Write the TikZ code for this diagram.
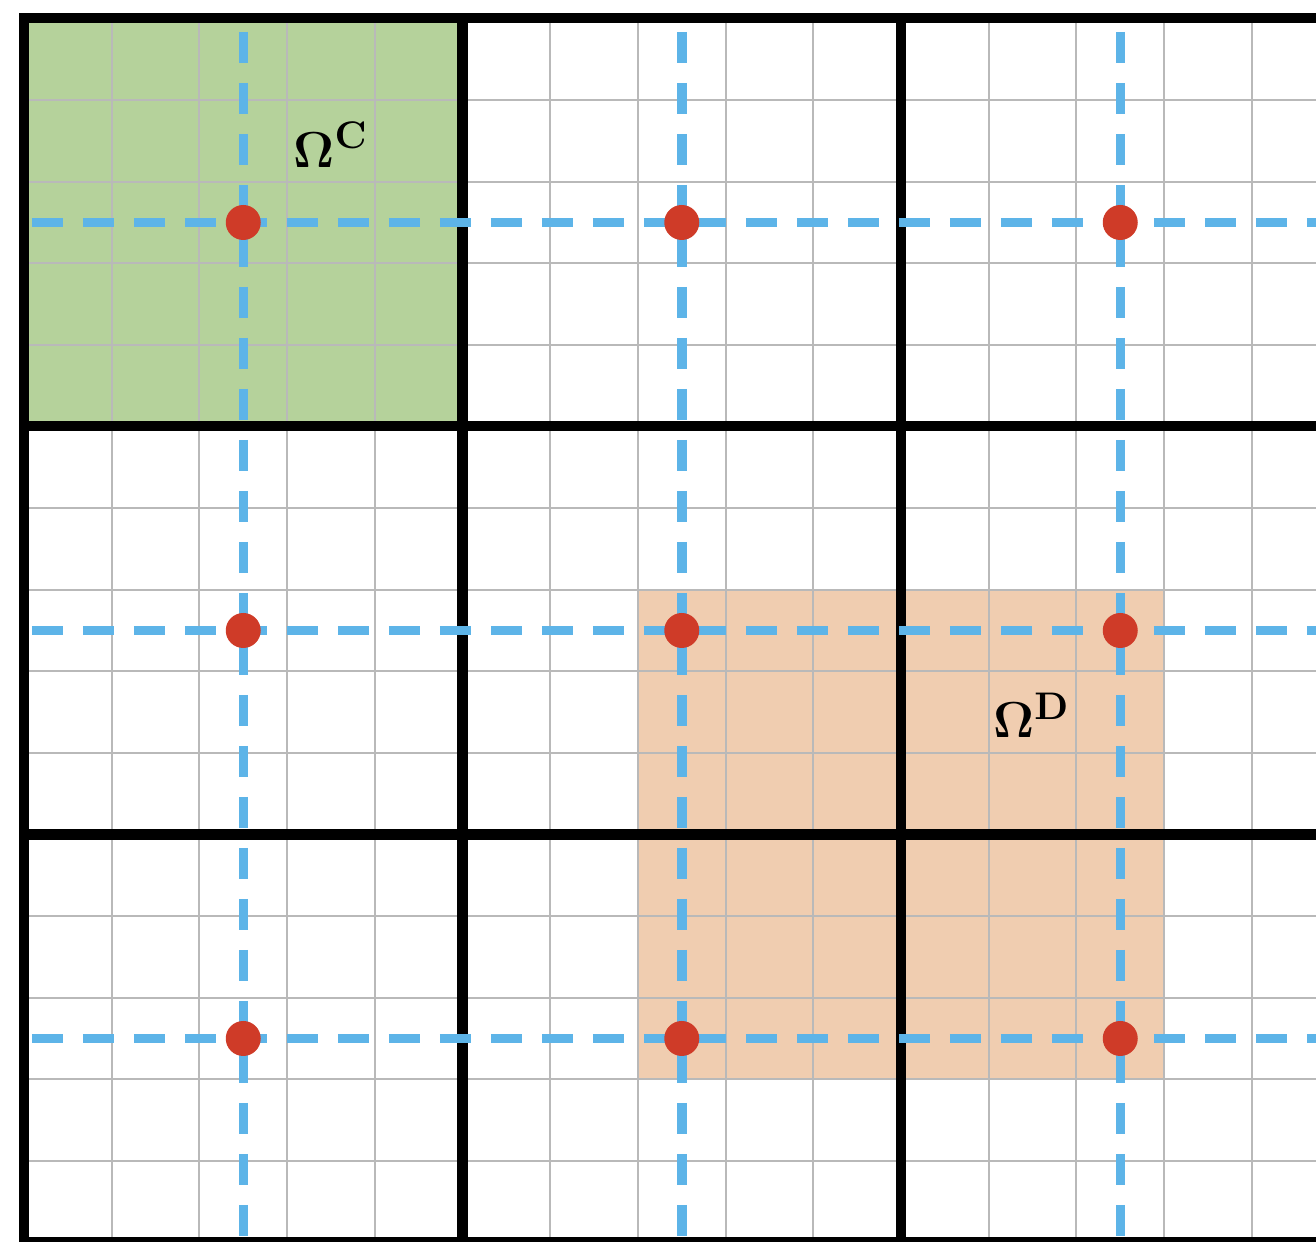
\documentclass[tikz,border=0pt]{standalone}
\usepackage{amsmath,amssymb}
\usepackage{bm}
\definecolor{cgreen}{HTML}{B5D29B}
\definecolor{corange}{HTML}{F0CDB0}
\definecolor{cblue}{HTML}{5DB4E8}
\definecolor{cred}{HTML}{CF3B28}
\definecolor{cgrid}{HTML}{B9B9B9}
\tikzset{
  fineline/.style={cgrid, line width=0.6pt},
  blockline/.style={black, line width=2.85pt},
  centreline/.style={cblue, line width=2.7pt, dash pattern=on 0.31cm off 0.20cm},
  dotnode/.style={circle, fill=cred, inner sep=0pt, minimum size=0.35cm},
}

\begin{document}
\begin{tikzpicture}[x=0.877cm, y=-0.816cm]
\useasboundingbox (-0.2737,-0.2267) rectangle (14.732,14.994);
% shaded regions
\fill[cgreen] (0,0) rectangle (5,5);
\fill[corange] (7,7) rectangle (13,13);
% fine mesh
\foreach \i in {1,...,15} \draw[fineline] (\i,0) -- (\i,15.3);
\foreach \j in {1,...,15} \draw[fineline] (0,\j) -- (15.3,\j);
% coarse blocks
\draw[blockline] (0,15.3) -- (0,0) -- (15.3,0);
\foreach \i in {5,10,15} \draw[blockline] (\i,0) -- (\i,15.3);
\foreach \j in {5,10,15} \draw[blockline] (0,\j) -- (15.3,\j);
% centre lines
\foreach \k in {2.5,7.5,12.5} {
  \draw[centreline] (0.09,\k) -- (15.3,\k);
  \draw[centreline] (\k,0.165) -- (\k,15.3);
}
% block centres
\foreach \i in {1,2,3}
  \foreach \j in {1,2,3}
    \node[dotnode] (p\i\j) at ({5*\i-2.5},{5*\j-2.5}) {};
\node (omc) at (3.5,1.55) {\fontsize{15.5}{18}\selectfont$\bm{\Omega}^{\mathbf{C}}$};
\node (omd) at (11.49,8.54) {\fontsize{15.5}{18}\selectfont$\bm{\Omega}^{\mathbf{D}}$};
\end{tikzpicture}
\end{document}
